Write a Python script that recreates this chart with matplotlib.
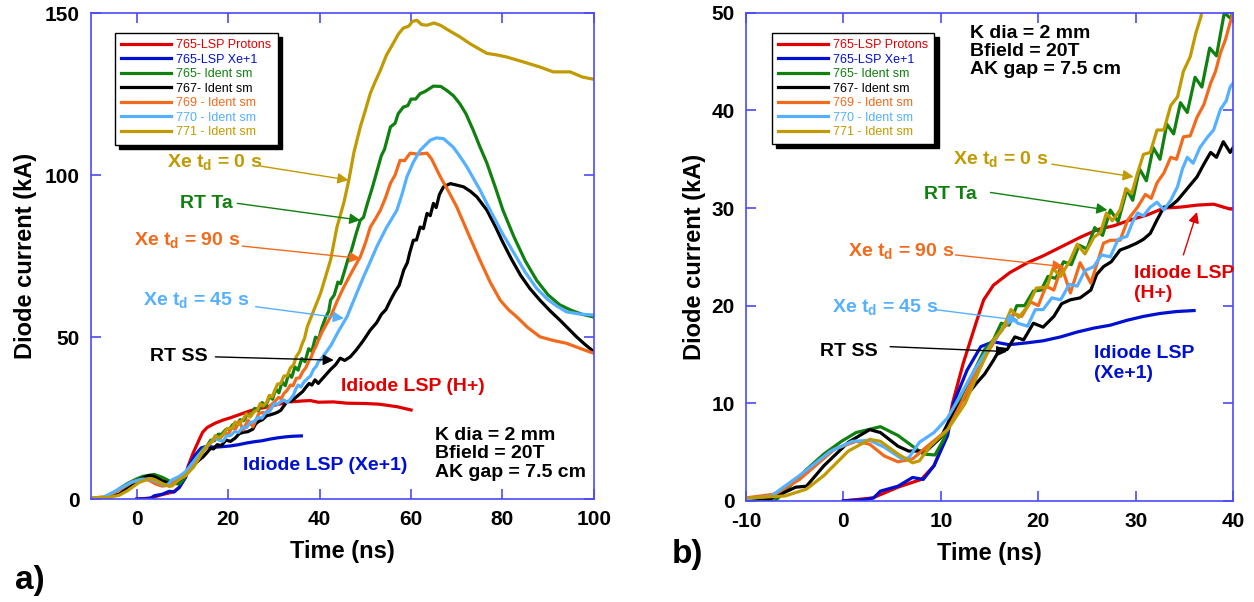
import matplotlib
matplotlib.use("Agg")
import matplotlib.pyplot as plt

plt.rcParams['font.family'] = ['Liberation Sans', 'DejaVu Sans']
plt.rcParams['mathtext.fontset'] = 'custom'
plt.rcParams['mathtext.rm'] = 'Liberation Sans:bold'
plt.rcParams['mathtext.bf'] = 'Liberation Sans:bold'
plt.rcParams['mathtext.it'] = 'Liberation Sans:bold'
plt.rcParams['axes.unicode_minus'] = False

# ---- data (time in ns, current in kA) ----
t_red = [0, 3, 5.6, 8, 9.3, 10.5, 11.2, 12.3, 13.7, 14.4, 15.4, 17.1, 18.9, 20.5, 22.3, 24.3,
         26.1, 27.8, 29.5, 31.2, 32.9, 34.6, 36.3, 38, 39.7, 43, 46, 50, 53, 57, 60]
i_red = [0, 0.3, 1.4, 2.2, 3.6, 6.5, 10, 14.1, 18.5, 20.6, 22.1, 23.4, 24.4, 25.1, 26.0, 27.0,
         27.8, 28.2, 28.8, 29.3, 30.0, 30.1, 30.3, 30.4, 29.9, 30.0, 29.6, 29.5, 29.3, 28.5, 27.5]

t_blue = [0, 2, 3.1, 3.8, 5.6, 7.1, 8.2, 9.3, 10.7, 11.3, 12.7, 14.1, 15.4, 17, 18.9, 20.5,
          22.3, 24, 25.7, 27.4, 29.1, 30.8, 32.5, 34.2, 36]
i_blue = [0, 0.1, 0.3, 1.0, 1.5, 2.4, 2.2, 3.6, 6.7, 10, 13.4, 15.8, 16.3, 16.0, 16.2, 16.4,
          16.8, 17.3, 17.7, 18.0, 18.5, 18.9, 19.2, 19.4, 19.5]

t_green = [-10, -7, -5.5, -3.8, -2, -0.2, 1.3, 3.8, 5.6, 7.1, 8.2, 9.4, 10.3, 11.5, 12.5, 13.5,
           14.5, 15.4, 16.2, 17.0, 17.8, 18.6, 19.5, 20.3, 21.0, 21.8, 22.6, 23.4, 24.2, 25.0,
           25.8, 26.6, 27.4, 28.2, 29.1, 29.7, 30.4, 31.1, 31.8, 32.5, 33.2, 33.9, 34.6, 35.3,
           36.1, 36.8, 37.6, 38.3, 39.1, 39.8, 40.5, 41.3, 42.0, 42.4, 43.2, 44.0, 44.6, 45.3,
           46.2, 47.0, 48.0, 48.9, 49.6, 50.4, 51.5, 52.6, 53.5, 54.2, 55.5, 56.5, 57.2, 58.3,
           59.3, 60, 61, 62, 63, 64.9, 66.5, 67.8, 69.3, 70.7, 72, 73.6, 75, 76.6, 78.5, 80.1,
           82.5, 85, 87.5, 90, 92.5, 95, 97.5, 100]
i_green = [0, 0, 1.5, 3.2, 4.8, 6.1, 7.0, 7.6, 6.7, 5.6, 4.8, 4.7, 6.3, 9.5, 11.5, 13.5,
           15.5, 16.5, 18.2, 18.0, 20.0, 20.0, 21.5, 21.6, 23.0, 22.8, 24.5, 24.2, 26.2, 25.8,
           28.0, 27.2, 29.8, 28.6, 31.9, 30.8, 34.0, 32.8, 36.2, 35.0, 38.6, 37.6, 40.8, 39.8,
           43.4, 42.4, 46.4, 45.6, 50.0, 49.4, 53, 56, 58, 61.4, 63, 67, 66.5, 69.7,
           74, 77, 82, 86.1, 87, 91, 96, 101.5, 106, 108, 114.9, 116, 119, 121,
           121.5, 123.5, 123.5, 125.2, 125.8, 127.5, 127.4, 126.2, 124.5, 122, 119, 113.9, 109, 103.7, 96, 89.2,
           81, 73.5, 67.5, 63, 60, 58.3, 57, 56.2]

t_black = [-10, -7.5, -4.9, -3.8, -2, 0.5, 2.7, 3.8, 5.6, 6.7, 8.5, 10, 11, 12, 13.7, 14.5,
           15.4, 16.1, 16.8, 17.6, 18.5, 19.5, 20.5, 21.6, 22.4, 23.3, 24.3, 25.4, 26.0, 26.7,
           27.5, 28.4, 29.2, 30.1, 30.8, 31.5, 32.2, 32.9, 33.6, 34.3, 35.3, 36.3, 37.0, 37.7,
           38.3, 39.0, 39.7, 40.5, 42.4, 43.5, 44.5, 45.5, 46.7, 48, 49.5, 51.1, 52.5, 53.5,
           54.5, 55.5, 56.5, 57.4, 58.4, 59.2, 59.7, 60.5, 61.2, 62, 62.7, 63.5, 64.2, 64.9,
           65.5, 66.2, 67.1, 68.6, 69.8, 71.5, 73, 74.4, 76.6, 78.5, 80, 82, 84, 86, 88.2,
           90.5, 92.6, 94.5, 96.2, 98, 100]
i_black = [0.2, 0.2, 1.4, 1.5, 3.6, 6.0, 7.3, 7.0, 5.6, 5.1, 5.1, 6.5, 8.5, 10, 12.1, 13.0,
           14.4, 15.6, 15.5, 16.8, 16.5, 18.2, 17.8, 18.9, 20.2, 20.6, 20.8, 21.6, 23.2, 24,
           24.5, 25.7, 26.0, 26.4, 26.8, 27.4, 28.8, 30.1, 30.2, 30.8, 32.0, 33.2, 34.5, 35.7,
           35.2, 36.8, 35.7, 37, 40, 41.5, 43.5, 42.8, 43.9, 46, 48.8, 52.2, 54.5, 57,
           58.5, 61.4, 64, 66, 70.7, 73, 76, 79.9, 80, 84, 83.5, 88.2, 87.5, 91.3,
           90, 94, 96.4, 97.4, 97, 96.4, 95, 93.3, 89.2, 84, 79.5, 74, 69, 65, 61.4,
           58, 55.2, 52.5, 50.1, 47.8, 45.5]

t_orange = [-10, -7, -4.5, -0.9, 1.3, 2.7, 4.2, 5.6, 7.1, 8.5, 10.7, 12.5, 14.1, 15.3, 16.2,
            17.0, 17.5, 18.3, 19.2, 20.0, 20.8, 21.6, 22.4, 23.3, 24.3, 25.4, 26.7, 27.4, 28.4,
            29.2, 30.2, 31.0, 31.6, 32.2, 32.9, 33.6, 34.2, 34.9, 35.6, 36.3, 37.0, 37.7, 38.2,
            38.7, 39.2, 39.7, 40.5, 42.4, 43.8, 45.3, 47, 48.9, 50, 51.1, 52.2, 53.3, 54.4,
            55.5, 56.5, 57.6, 58.6, 59.8, 61.5, 63.5, 64.5, 66.4, 68.2, 70, 72.5, 75, 77.3,
            79.5, 81.3, 83.1, 85.5, 88.2, 91, 94, 97, 100]
i_orange = [0.3, 0.7, 2.2, 5.3, 6.1, 5.8, 4.6, 4.0, 4.3, 5.5, 7.3, 10.8, 14.1, 16.0, 17.5,
            18.3, 19.2, 18.9, 20.4, 20.0, 22.0, 21.6, 24.0, 21.3, 24.4, 22.3, 26.4, 26.7, 26.7,
            28.8, 30.1, 31.4, 31.0, 32.6, 33.6, 35.2, 35.0, 37.3, 37.4, 39.3, 40.6, 42.8, 44.0,
            45.9, 47.2, 49.0, 51.5, 56.3, 61, 65.5, 70, 74.8, 79, 84, 86.5, 89.2, 93,
            97.5, 100, 104.6, 104.5, 106.8, 106.5, 106.8, 105, 99.5, 95, 90.2, 82, 74, 67,
            61.4, 58.5, 56.3, 53, 50.1, 49, 48.1, 46.5, 45]

t_lblue = [-10, -7.4, -4.5, -1.3, 0.9, 2.7, 4.2, 6.0, 6.7, 7.8, 9.3, 10.7, 12, 13.5, 15,
           16.2, 17.1, 17.9, 18.9, 19.7, 20.5, 21.4, 22.3, 23.2, 24, 24.8, 25.7, 26.5, 27.4,
           28.2, 29.1, 29.7, 30.2, 30.8, 31.5, 32.2, 32.9, 33.6, 34.3, 34.8, 35.3, 35.9, 36.6,
           37.4, 38.0, 38.7, 39.3, 39.7, 40.5, 42.5, 44.2, 46, 47.8, 49.6, 51, 52.5, 54.5,
           56.9, 58, 59.1, 60.5, 62, 64.2, 65.5, 67.1, 69.2, 70.6, 72.2, 75.1, 77.3, 80,
           82.5, 85, 87.5, 90, 92, 94, 97, 100]
i_lblue = [0.2, 0.5, 2.6, 5.1, 6.1, 6.2, 5.5, 4.3, 4.4, 6.0, 7.0, 8.5, 10.8, 13.5, 15.8,
           17.4, 18.9, 18.2, 17.9, 19.6, 19.6, 20.8, 20.6, 22.2, 22, 23.6, 24.0, 25.2, 25.0,
           26.8, 27.1, 28.6, 29.5, 29.2, 30.1, 30.6, 29.8, 30.8, 32.2, 34.0, 35.2, 34.6, 36.2,
           37.3, 38.0, 40.1, 41.0, 42.4, 43.5, 47.5, 52, 56.3, 62.5, 68.6, 73, 77.9, 83.5,
           89.2, 94, 99.5, 104, 107.7, 110.8, 111.5, 111.3, 108.7, 106, 102.6, 95.4, 89.2, 82,
           76, 70, 65, 61.5, 59.5, 57.8, 57.1, 56.8]

t_olive = [-10, -6, -3.8, -2, 0.5, 2.7, 3.8, 5.6, 7.1, 7.8, 8.9, 10.7, 12.5, 14, 15.4,
           16.3, 17.2, 18.0, 18.9, 19.8, 20.9, 21.5, 22.3, 23.3, 24.0, 24.8, 25.7, 26.4, 27.0,
           27.6, 28.4, 29.0, 29.6, 30.2, 30.8, 31.5, 32.2, 32.9, 33.6, 34.3, 34.9, 35.6, 36.2,
           36.7, 37.3, 40.2, 42.4, 43.8, 45.3, 46.4, 47.5, 48.9, 50, 51.1, 52.2, 53.3, 54.6,
           56.1, 57.2, 58.3, 59.5, 60.3, 61.3, 62.3, 63.5, 65, 66.4, 68.5, 70.7, 73, 76.6,
           78.5, 80.9, 84.5, 88.2, 91.1, 94.8, 97.5, 100]
i_olive = [0.3, 0.5, 1.2, 2.6, 5.1, 6.3, 6.1, 4.8, 3.9, 4.1, 5.6, 7.3, 10, 13.5, 16.5,
           17.5, 19.6, 18.8, 19.9, 21.8, 21.9, 23.8, 23.0, 24.7, 26.3, 25.3, 27.0, 27.5, 29.5,
           28.7, 29.8, 32.0, 31.5, 33.6, 35.5, 35.7, 38.0, 38.0, 40.5, 41.4, 44.0, 45.5, 48.0,
           49.6, 53.2, 63.5, 73.8, 84, 91.5, 98.5, 107, 114.9, 120, 125.3, 129, 132.4, 137,
           140.7, 143.5, 145.4, 146, 147.5, 147.8, 146.5, 146.3, 147, 146.3, 144.5, 142.7, 140.5, 137.6,
           137.2, 136.5, 135, 133.4, 131.9, 131.9, 130.3, 129.6]

series = [
    ("765-LSP Protons", t_red, i_red, "#e00000"),
    ("765-LSP Xe+1", t_blue, i_blue, "#0010d0"),
    ("765- Ident sm", t_green, i_green, "#108010"),
    ("767- Ident sm", t_black, i_black, "black"),
    ("769 - Ident sm", t_orange, i_orange, "#f26a1b"),
    ("770 - Ident sm", t_lblue, i_lblue, "#55b0ff"),
    ("771 - Ident sm", t_olive, i_olive, "#c09a00"),
]

spine_col = "#4a4aff"
fig = plt.figure(figsize=(12.54, 6.02), dpi=100)
ax_a = fig.add_axes([0.0726, 0.171, 0.401, 0.807])
ax_b = fig.add_axes([0.5949, 0.168, 0.3884, 0.8106])


def style_axis(ax, ypad):
    for s in ax.spines.values():
        s.set_color(spine_col)
        s.set_linewidth(1.2)
    ax.tick_params(direction="in", length=7, width=1.2, color=spine_col,
                   top=True, right=True, labelsize=15, pad=8)
    for lab in ax.get_xticklabels() + ax.get_yticklabels():
        lab.set_fontweight("bold")
    ax.set_xlabel("Time (ns)", fontsize=17, fontweight="bold", labelpad=8)
    ax.set_ylabel("Diode current (kA)", fontsize=17, fontweight="bold", labelpad=ypad)


for ax in (ax_a, ax_b):
    for name, t, i, c in series:
        ax.plot(t, i, color=c, lw=2.3, label=name)

ax_a.set_xlim(-10, 100)
ax_a.set_ylim(0, 150)
ax_a.set_xticks([0, 20, 40, 60, 80, 100])
ax_a.set_yticks([0, 50, 100, 150])
ax_b.set_xlim(-10, 40)
ax_b.set_ylim(0, 50)
ax_b.set_xticks([-10, 0, 10, 20, 30, 40])
ax_b.set_yticks([0, 10, 20, 30, 40, 50])
style_axis(ax_a, 6)
style_axis(ax_b, 4)

for ax, anchor in ((ax_a, (0.035, 0.972)), (ax_b, (0.04, 0.972))):
    ax.legend(loc="upper left", bbox_to_anchor=anchor, fontsize=9, labelcolor="linecolor",
              frameon=True, fancybox=False, edgecolor="black", framealpha=1,
              shadow={"ox": 3, "oy": -3, "color": "black", "alpha": 1},
              handlelength=4, handletextpad=0.4, labelspacing=0.2, borderpad=0.5)


def note(ax, text, xy, tail, head, color, ha="left"):
    ax.text(xy[0], xy[1], text, color=color, fontsize=14, fontweight="bold",
            ha=ha, va="center")
    if tail is not None:
        ax.annotate("", xy=head, xytext=tail,
                    arrowprops=dict(arrowstyle="-|>", color=color, lw=1,
                                    mutation_scale=16, shrinkA=0, shrinkB=0))


col = dict((s[0], s[3]) for s in series)
green, black, orange, lblue, olive = (col["765- Ident sm"], col["767- Ident sm"],
                                      col["769 - Ident sm"], col["770 - Ident sm"],
                                      col["771 - Ident sm"])

# panel a notes
note(ax_a, r"Xe t$_\mathbf{d}$ = 0 s", (6.6, 104), (27.1, 102.8), (46.3, 98.5), olive)
note(ax_a, "RT Ta", (9.5, 91.3), (22, 91.3), (48.9, 86.1), green)
note(ax_a, r"Xe t$_\mathbf{d}$ = 90 s", (-0.5, 80), (23.1, 78.1), (48.9, 74.3), orange)
note(ax_a, r"Xe t$_\mathbf{d}$ = 45 s", (1.3, 61.5), (26, 59.4), (45.3, 55.8), lblue)
note(ax_a, "RT SS", (3.0, 43.9), (17.2, 43.9), (43.1, 42.9), black)
note(ax_a, "Idiode LSP (H+)", (60.5, 34.6), None, None, "#e00000", ha="center")
note(ax_a, "Idiode LSP (Xe+1)", (41.3, 10.5), None, None, "#0010d0", ha="center")
ax_a.text(65.3, 22.2, "K dia = 2 mm\nBfield = 20T\nAK gap = 7.5 cm", fontsize=14,
          fontweight="bold", va="top", ha="left", linespacing=1.1)

# panel b notes
note(ax_b, r"Xe t$_\mathbf{d}$ = 0 s", (11.3, 35), (21.4, 34.5), (29.8, 33.2), olive)
note(ax_b, "RT Ta", (8.3, 31.4), (15.1, 31.6), (27.1, 29.8), green)
note(ax_b, r"Xe t$_\mathbf{d}$ = 90 s", (0.5, 25.6), (11.5, 25.2), (22.6, 24.0), orange)
note(ax_b, r"Xe t$_\mathbf{d}$ = 45 s", (-1.2, 19.9), (9.4, 19.6), (18.0, 18.5), lblue)
note(ax_b, "RT SS", (-2.4, 15.3), (4.8, 15.8), (16.8, 15.3), black)
note(ax_b, "Idiode LSP\n(H+)", (29.8, 22.3), (34.9, 25.2), (36.3, 29.6), "#e00000")
note(ax_b, "Idiode LSP\n(Xe+1)", (25.7, 14.1), None, None, "#0010d0")
ax_b.text(13, 48.8, "K dia = 2 mm\nBfield = 20T\nAK gap = 7.5 cm", fontsize=14,
          fontweight="bold", va="top", ha="left", linespacing=1.1)

fig.text(30 / 1254, 1 - 580 / 602, "a)", fontsize=24, fontweight="bold", ha="center", va="center")
fig.text(687 / 1254, 1 - 555 / 602, "b)", fontsize=24, fontweight="bold", ha="center", va="center")

fig.savefig("out.png", dpi=100)
